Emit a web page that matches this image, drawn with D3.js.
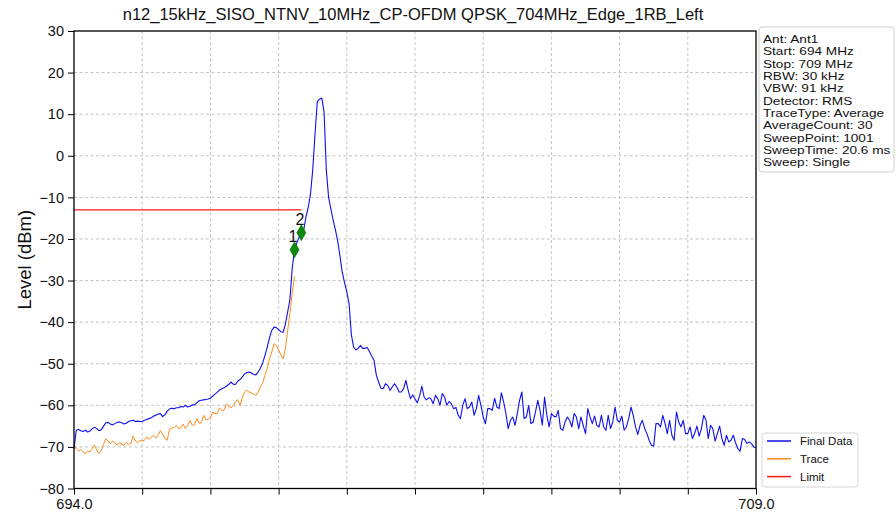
<!DOCTYPE html>
<html><head><meta charset="utf-8">
<script src="https://cdn.jsdelivr.net/npm/d3@7"></script>
<style>
body{margin:0;background:#fff}
svg{display:block}
text{font-family:"Liberation Sans",Arial,sans-serif;fill:#111}
</style>
</head><body>
<svg id="chart" width="896" height="517"></svg>
<script>
// ---------------- data ----------------
const chartTitle = "n12_15kHz_SISO_NTNV_10MHz_CP-OFDM QPSK_704MHz_Edge_1RB_Left";
const yLabel = "Level (dBm)";
const freqStart = 694.0;      // MHz, sweep start
const freqStep = 0.05;        // MHz between plotted sweep samples
const finalData = [
-70.5,-66.0,-65.8,-66.1,-66.3,-66.0,-66.4,-66.2,-65.6,-65.3,
-65.6,-66.1,-65.9,-65.0,-64.2,-64.1,-64.5,-64.7,-64.4,-64.1,
-64.0,-64.2,-64.5,-64.3,-63.9,-63.7,-63.6,-63.9,-63.8,-63.9,
-63.9,-63.6,-63.4,-63.2,-63.0,-62.6,-62.4,-62.1,-62.0,-62.7,
-62.3,-61.4,-60.9,-60.7,-60.8,-60.6,-60.6,-60.3,-60.4,-60.0,
-60.4,-60.2,-59.9,-59.9,-59.4,-58.9,-58.8,-58.7,-58.6,-58.5,
-58.3,-57.8,-57.3,-56.9,-56.3,-56.0,-55.8,-55.4,-55.0,-54.4,
-54.9,-55.0,-54.2,-53.8,-53.2,-52.5,-52.1,-52.0,-52.2,-52.6,
-52.7,-52.0,-51.1,-49.8,-48.0,-46.0,-43.8,-42.0,-41.2,-41.3,
-41.8,-42.3,-42.4,-40.5,-37.5,-34.5,-27.0,-22.6,-21.0,-19.6,
-18.5,-18.0,-14.8,-12.5,-9.3,-3.5,5.0,13.0,13.6,13.9,
10.5,-3.5,-10.0,-12.8,-15.5,-17.8,-20.5,-24.1,-28.0,-30.5,
-32.8,-35.5,-43.0,-46.0,-46.7,-46.3,-45.6,-46.3,-46.3,-46.1,
-47.1,-48.2,-49.2,-52.8,-54.4,-55.9,-56.0,-54.8,-55.2,-56.4,
-55.6,-54.8,-55.6,-56.8,-56.8,-56.0,-54.0,-56.4,-58.4,-57.5,
-58.4,-59.4,-57.8,-55.4,-58.0,-58.7,-58.2,-58.4,-59.6,-57.6,
-58.4,-60.0,-57.2,-58.0,-60.0,-59.1,-59.6,-60.8,-60.5,-62.4,
-63.2,-60.0,-58.4,-60.8,-60.4,-59.2,-62.4,-60.8,-57.6,-60.0,
-62.8,-64.4,-60.8,-60.8,-61.2,-58.3,-60.4,-60.8,-57.0,-59.2,
-62.0,-65.6,-63.6,-62.8,-64.8,-62.0,-58.8,-56.8,-63.2,-62.8,
-60.0,-64.4,-64.0,-61.6,-58.8,-61.2,-64.8,-58.0,-62.4,-65.2,
-62.0,-62.6,-62.8,-61.2,-65.6,-66.0,-64.0,-62.8,-63.6,-65.2,
-62.0,-62.8,-65.6,-62.8,-64.8,-66.8,-60.8,-62.8,-64.4,-62.6,
-64.8,-65.2,-62.4,-65.2,-66.0,-62.4,-65.6,-64.0,-60.4,-63.6,
-64.0,-62.6,-66.0,-65.2,-63.2,-60.4,-62.4,-65.2,-67.0,-64.8,
-63.6,-65.5,-66.8,-68.4,-69.6,-69.8,-64.4,-64.4,-65.2,-62.4,
-64.4,-66.8,-63.6,-67.2,-68.4,-61.6,-64.0,-65.2,-63.6,-66.8,
-66.8,-65.2,-68.0,-66.8,-65.0,-67.4,-65.6,-62.4,-63.6,-68.0,
-64.8,-65.6,-68.6,-66.8,-65.0,-68.0,-69.6,-67.2,-68.8,-68.4,
-67.2,-69.0,-70.4,-71.0,-68.0,-68.2,-69.2,-68.8,-69.2,-70.0,-70.2
];
const traceData = [
-69.6,-70.4,-71.0,-70.6,-71.2,-71.6,-71.0,-71.2,-70.4,-69.6,
-70.8,-71.6,-70.8,-69.4,-68.0,-68.6,-69.2,-68.6,-69.0,-69.6,
-69.0,-69.4,-69.6,-68.9,-69.4,-69.2,-67.4,-68.6,-69.0,-68.4,
-68.6,-68.4,-67.6,-68.2,-67.7,-67.2,-67.9,-67.2,-66.1,-66.9,
-68.0,-68.4,-65.8,-65.4,-65.4,-64.8,-65.6,-65.4,-64.5,-65.6,
-64.8,-63.6,-64.8,-64.7,-63.2,-64.3,-64.2,-62.4,-63.4,-63.4,
-63.1,-61.6,-62.0,-62.0,-60.6,-61.2,-61.2,-59.7,-60.2,-60.6,
-60.2,-59.1,-58.6,-60.0,-58.3,-56.8,-56.4,-56.8,-57.0,-57.3,
-57.6,-56.8,-55.5,-54.6,-52.8,-51.1,-48.8,-47.2,-45.2,-45.6,
-46.6,-47.9,-48.8,-46.4,-42.0,-37.7,-33.0,-29.0
];
const limitFreq = [694.0, 699.0];
const limitLevel = [-13, -13];
const markerFreq = [698.85, 699.0];
const markerLevel = [-22.6, -18.5];
const markerLabel = ["1", "2"];
const xTicks = [694.0, 695.5, 697.0, 698.5, 700.0, 701.5, 703.0, 704.5, 706.0, 707.5, 709.0];
const xTickLabels = ["694.0", "", "", "", "", "", "", "", "", "", "709.0"];
const yTicks = [-80, -70, -60, -50, -40, -30, -20, -10, 0, 10, 20, 30];
const infoLines = ["Ant: Ant1", "Start: 694 MHz", "Stop: 709 MHz", "RBW: 30 kHz", "VBW: 91 kHz",
  "Detector: RMS", "TraceType: Average", "AverageCount: 30", "SweepPoint: 1001",
  "SweepTime: 20.6 ms", "Sweep: Single"];
const legendNames = ["Final Data", "Trace", "Limit"];
const legendColors = ["#0f0fee", "#ff8c1a", "#ff1a1a"];

// ---------------- layout ----------------
const svg = d3.select("#chart");
const L = 74, R = 756, T = 31, B = 488.5;
const x = d3.scaleLinear().domain([694, 709]).range([L, R]);
const y = d3.scaleLinear().domain([-80, 30]).range([B, T]);

// grid
const grid = svg.append("g").attr("stroke", "#b4b4b4").attr("stroke-width", 0.8).attr("stroke-dasharray", "3,2.5");
grid.selectAll(".gx").data(xTicks.slice(1, -1)).join("line")
  .attr("x1", d => x(d)).attr("x2", d => x(d)).attr("y1", T).attr("y2", B);
grid.selectAll(".gy").data(yTicks.slice(1, -1)).join("line")
  .attr("y1", d => y(d)).attr("y2", d => y(d)).attr("x1", L).attr("x2", R);

// axes
const xAxis = d3.axisBottom(x).tickValues(xTicks).tickSize(6).tickPadding(4)
  .tickFormat((d, i) => xTickLabels[i]);
const gx = svg.append("g").attr("transform", `translate(0,${B})`).call(xAxis);
const yAxis = d3.axisLeft(y).tickValues(yTicks).tickSize(6).tickPadding(4)
  .tickFormat(d => d < 0 ? "\u2212" + Math.abs(d) : String(d));
const gy = svg.append("g").attr("transform", `translate(${L},0)`).call(yAxis);
[gx, gy].forEach(g => {
  g.select(".domain").remove();
  g.selectAll(".tick line").attr("stroke", "#000").attr("stroke-width", 1);
  g.selectAll(".tick text").attr("font-size", 14.5).attr("fill", "#111")
    .style("font-family", "'Liberation Sans',Arial,sans-serif");
});

// series
const line = d3.line().x(d => x(d[0])).y(d => y(d[1]));
const finalPts = finalData.map((v, i) => [freqStart + i * freqStep, v]);
const tracePts = traceData.map((v, i) => [freqStart + i * freqStep, v]);
const limitPts = limitFreq.map((f, i) => [f, limitLevel[i]]);

svg.append("path").datum(tracePts).attr("d", line)
  .attr("fill", "none").attr("stroke", legendColors[1]).attr("stroke-width", 1);
svg.append("path").datum(finalPts).attr("d", line)
  .attr("fill", "none").attr("stroke", legendColors[0]).attr("stroke-width", 1.1).attr("stroke-linejoin", "round");
svg.append("path").datum(limitPts).attr("d", line)
  .attr("fill", "none").attr("stroke", legendColors[2]).attr("stroke-width", 1.3);

// markers
const sym = d3.symbol().type(d3.symbolDiamond).size(72);
markerFreq.forEach((f, i) => {
  svg.append("path").attr("d", sym()).attr("transform", `translate(${x(f)},${y(markerLevel[i])})`)
    .attr("fill", "#0a8a0a").attr("stroke", "#066606").attr("stroke-width", 0.6);
  svg.append("text").attr("x", x(f) - 1.5).attr("y", y(markerLevel[i]) - 7.5)
    .attr("text-anchor", "middle").attr("font-size", 16).text(markerLabel[i]);
});

// frame
svg.append("rect").attr("x", L).attr("y", T).attr("width", R - L).attr("height", B - T)
  .attr("fill", "none").attr("stroke", "#000").attr("stroke-width", 1.3);

// title
svg.append("text").attr("x", (L + R) / 2 - 2).attr("y", 19.5).attr("text-anchor", "middle")
  .attr("font-size", 16.5).text(chartTitle);

// y label
svg.append("text").attr("transform", `translate(31,${(T + B) / 2}) rotate(-90)`)
  .attr("text-anchor", "middle").attr("font-size", 18.5).text(yLabel);

// info box
const info = svg.append("g");
info.append("rect").attr("x", 759).attr("y", 27).attr("width", 135).attr("height", 145)
  .attr("rx", 3).attr("fill", "#fff").attr("stroke", "#cfcfcf");
info.selectAll("text").data(infoLines).join("text")
  .attr("transform", (d, i) => `translate(763,${43 + i * 12.34}) scale(1.25,1)`)
  .attr("font-size", 10.9).text(d => d);

// legend
const leg = svg.append("g");
leg.append("rect").attr("x", 762).attr("y", 433).attr("width", 96).attr("height", 54)
  .attr("rx", 3).attr("fill", "#fff").attr("stroke", "#d6d6d6");
legendNames.forEach((n, i) => {
  const yy = 441 + i * 17.8;
  leg.append("line").attr("x1", 767).attr("x2", 791).attr("y1", yy).attr("y2", yy)
    .attr("stroke", legendColors[i]).attr("stroke-width", 1.5);
  leg.append("text").attr("x", 800).attr("y", yy + 4).attr("font-size", 11.5).text(n);
});
</script>
</body></html>
